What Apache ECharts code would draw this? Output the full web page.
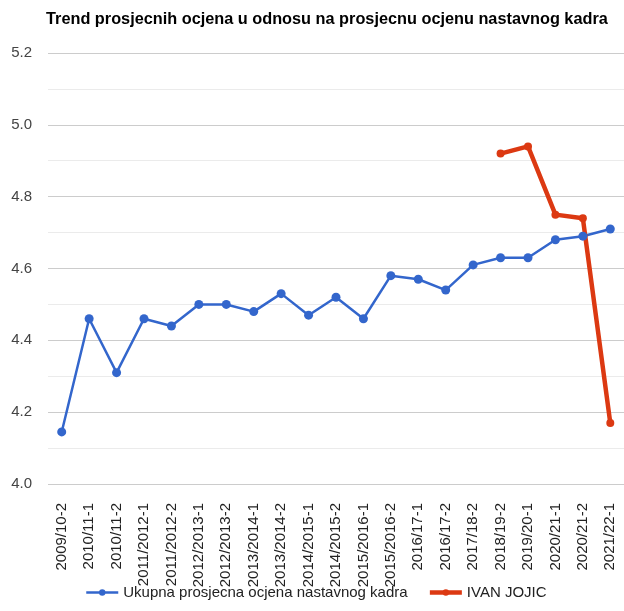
<!DOCTYPE html>
<html>
<head>
<meta charset="utf-8">
<script src="https://cdn.jsdelivr.net/npm/echarts@6/dist/echarts.min.js"></script>
<style>
html,body{margin:0;padding:0;background:#fff;}
#chart{width:624px;height:611px;}
</style>
</head>
<body>
<div id="chart"></div>
<script>
const categories = ["2009/10-2","2010/11-1","2010/11-2","2011/2012-1","2011/2012-2","2012/2013-1","2012/2013-2","2013/2014-1","2013/2014-2","2014/2015-1","2014/2015-2","2015/2016-1","2015/2016-2","2016/17-1","2016/17-2","2017/18-2","2018/19-2","2019/20-1","2020/21-1","2020/21-2","2021/22-1"];
const overallValues = [4.145,4.46,4.31,4.46,4.44,4.50,4.50,4.48,4.53,4.47,4.52,4.46,4.58,4.57,4.54,4.61,4.63,4.63,4.68,4.69,4.71];
const teacherValues = [null,null,null,null,null,null,null,null,null,null,null,null,null,null,null,null,4.92,4.94,4.75,4.74,4.17];
const seriesNames = ["Ukupna prosjecna ocjena nastavnog kadra","IVAN JOJIC"];
const titleText = "Trend prosjecnih ocjena u odnosu na prosjecnu ocjenu nastavnog kadra";

const chart = echarts.init(document.getElementById('chart'), null, {renderer:'canvas'});
const FONT = '"Liberation Sans", Arial, sans-serif';
chart.setOption({
  animation:false,
  backgroundColor:'#fff',
  title:{text:titleText,left:41,top:7,textStyle:{fontFamily:FONT,fontSize:16.3,fontWeight:'bold',color:'#000'}},
  legend:{
    bottom:6,left:80,itemWidth:32,itemHeight:8,itemGap:20,
    textStyle:{fontFamily:FONT,fontSize:15,color:'#222'},
    data:[
      {name:seriesNames[0],lineStyle:{width:2.5}},
      {name:seriesNames[1],lineStyle:{width:4.5}}
    ]
  },
  grid:{left:48,right:0,top:53,bottom:127,containLabel:false},
  xAxis:{
    type:'category',data:categories,boundaryGap:true,
    axisLine:{show:false},axisTick:{show:false},
    axisLabel:{rotate:90,margin:19,interval:0,fontFamily:FONT,fontSize:15,color:'#222'}
  },
  yAxis:{
    type:'value',min:4.0,max:5.2,interval:0.2,
    axisLine:{show:false},axisTick:{show:false},
    axisLabel:{margin:16,fontFamily:FONT,fontSize:15,color:'#444',formatter:v=>v.toFixed(1)},
    splitLine:{lineStyle:{color:'#cccccc',width:1}},
    minorTick:{show:false,splitNumber:2},
    minorSplitLine:{show:true,lineStyle:{color:'#ebebeb',width:1}}
  },
  series:[
    {name:seriesNames[0],type:'line',data:overallValues,color:'#3366cc',
     symbol:'circle',symbolSize:9,lineStyle:{width:2.5,color:'#3366cc'},itemStyle:{color:'#3366cc'}},
    {name:seriesNames[1],type:'line',data:teacherValues,color:'#dc3912',connectNulls:false,
     symbol:'circle',symbolSize:8,lineStyle:{width:4.5,color:'#dc3912'},itemStyle:{color:'#dc3912'}}
  ]
});
</script>
</body>
</html>
